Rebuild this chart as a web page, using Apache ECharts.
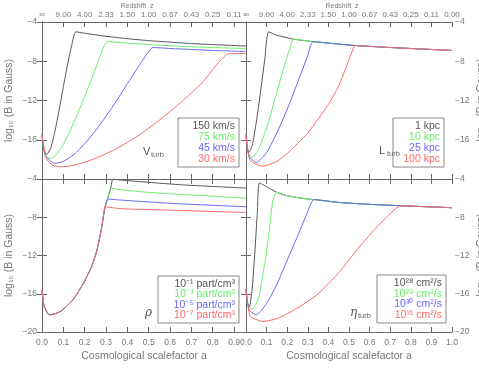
<!DOCTYPE html>
<html>
<head>
<meta charset="utf-8">
<script src="https://cdn.jsdelivr.net/npm/echarts@6/dist/echarts.min.js"></script>
<style>
  html, body { margin: 0; padding: 0; background: #fff; }
  #chart { width: 479px; height: 379px; }
</style>
</head>
<body>
<div id="chart"></div>
<script>
// tick values / labels
const yTicks = [-4, -8, -12, -16, -20];
const aTicks = [0, 0.1, 0.2, 0.3, 0.4, 0.5, 0.6, 0.7, 0.8, 0.9, 1.0];
const redshiftLabels = ["∞", "9.00", "4.00", "2.33", "1.50", "1.00", "0.67", "0.43", "0.25", "0.11", "0.00"];

// panel 1: V_turb  [a, log10 B]
const vturb150 = [[0,-15.5],[0.008,-16.9],[0.022,-17.5],[0.04,-16.9],[0.06,-15.2],[0.08,-13.0],[0.1,-10.6],[0.12,-8.3],[0.14,-6.3],[0.158,-5.0],[0.2,-5.15],[0.3,-5.45],[0.4,-5.7],[0.5,-5.9],[0.6,-6.05],[0.7,-6.2],[0.8,-6.3],[0.956,-6.45]];
const vturb75 = [[0,-15.5],[0.01,-17.2],[0.038,-17.9],[0.06,-17.7],[0.1,-16.5],[0.15,-14.2],[0.2,-11.6],[0.25,-8.8],[0.29,-6.5],[0.305,-6.0],[0.4,-6.15],[0.5,-6.3],[0.6,-6.42],[0.7,-6.52],[0.8,-6.6],[0.956,-6.7]];
const vturb45 = [[0,-15.5],[0.015,-17.6],[0.06,-18.4],[0.1,-18.2],[0.15,-17.5],[0.2,-16.4],[0.25,-15.1],[0.3,-13.6],[0.35,-12.0],[0.4,-10.3],[0.45,-8.6],[0.5,-7.0],[0.52,-6.6],[0.6,-6.7],[0.7,-6.8],[0.8,-6.9],[0.956,-7.0]];
const vturb30 = [[0,-15.5],[0.02,-17.9],[0.05,-18.6],[0.09,-18.75],[0.15,-18.6],[0.25,-17.9],[0.35,-16.9],[0.45,-15.6],[0.55,-14.0],[0.65,-12.2],[0.75,-10.2],[0.82,-8.3],[0.86,-7.4],[0.88,-7.2],[0.956,-7.2]];

// panel 2: L_turb (all reach the same saturated branch)
const lturbTop = [[0.11,-5.0],[0.15,-5.35],[0.2,-5.6],[0.23,-5.75],[0.325,-6.0],[0.4,-6.15],[0.53,-6.4],[0.7,-6.6],[0.85,-6.75],[1.0,-6.9]];
const lturb1 = [[0,-15.5],[0.006,-16.8],[0.014,-17.3],[0.03,-16.6],[0.05,-14.2],[0.07,-11.2],[0.09,-8.0]];
const lturb10 = [[0,-15.5],[0.01,-17.3],[0.03,-17.8],[0.06,-17.0],[0.1,-14.8],[0.14,-11.9],[0.18,-8.9],[0.22,-6.2]];
const lturb25 = [[0,-15.5],[0.015,-17.7],[0.05,-18.3],[0.1,-17.3],[0.15,-15.3],[0.2,-12.9],[0.25,-10.2],[0.3,-7.4]];
const lturb100 = [[0,-15.5],[0.02,-18.1],[0.08,-18.7],[0.15,-18.2],[0.2,-17.4],[0.3,-15.3],[0.4,-12.4],[0.45,-10.5],[0.49,-8.4],[0.515,-7.0]];

// panel 3: density (common growth, then separate branches)
const rhoRise = [[0,-15.6],[0.01,-17.3],[0.035,-18.2],[0.06,-18.1],[0.09,-17.8],[0.116,-17.3],[0.15,-16.5],[0.194,-14.9],[0.23,-13.3],[0.257,-11.5],[0.28,-9.0],[0.29,-7.6]];
const rho1 = [[0.296,-6.9],[0.307,-6.1],[0.322,-4.95],[0.333,-4.0],[0.366,-4.1],[0.5,-4.35],[0.65,-4.6],[0.8,-4.78],[0.956,-4.95]];
const rho3 = [[0.296,-6.9],[0.307,-6.1],[0.322,-4.95],[0.366,-5.12],[0.5,-5.4],[0.65,-5.62],[0.8,-5.8],[0.956,-6.0]];
const rho5 = [[0.296,-6.9],[0.307,-6.1],[0.366,-6.2],[0.5,-6.4],[0.65,-6.6],[0.8,-6.75],[0.956,-6.9]];
const rho7 = [[0.296,-6.9],[0.366,-7.1],[0.5,-7.2],[0.65,-7.3],[0.8,-7.4],[0.956,-7.5]];

// panel 4: eta_turb
const etaTop = [[0.065,-4.4],[0.1,-4.8],[0.15,-5.4],[0.2,-5.75],[0.3,-6.1],[0.33,-6.15],[0.45,-6.45],[0.6,-6.65],[0.756,-6.8],[0.9,-6.92],[1.0,-7.0]];
const eta28 = [[0,-15.5],[0.006,-16.9],[0.016,-17.4],[0.03,-15.5],[0.045,-11.0],[0.055,-7.5]];
const eta29 = [[0,-15.5],[0.01,-17.2],[0.03,-17.6],[0.06,-16.5],[0.09,-13.0],[0.11,-10.0],[0.13,-6.3]];
const eta30 = [[0,-15.5],[0.015,-17.7],[0.05,-18.2],[0.1,-17.0],[0.15,-15.0],[0.2,-12.5],[0.25,-10.0],[0.3,-7.4]];
const eta31 = [[0,-15.5],[0.02,-18.3],[0.083,-18.9],[0.15,-18.6],[0.25,-17.5],[0.35,-16.0],[0.45,-13.8],[0.55,-11.1],[0.65,-8.7]];

const colors = ["#555555", "#66f066", "#6868f8", "#ff6868"];
const axisColor = "#666";
const textColor = "#777";
const font = "Liberation Sans";
const yName = "log\u2081\u2080 (B in Gauss)";

// join a rising part onto the shared upper branch
const withTop = (rise, top) => rise.concat(top.filter(p => p[0] > rise[rise.length - 1][0]));

const chart = echarts.init(document.getElementById("chart"));

// panel boxes in px
const panels = [
  { left: 42, top: 22, width: 204, height: 157, xmax: 0.956 },
  { left: 246, top: 22, width: 206, height: 157, xmax: 1.0 },
  { left: 42, top: 179, width: 204, height: 153, xmax: 0.956 },
  { left: 246, top: 179, width: 206, height: 153, xmax: 1.0 }
];

const tickStyle = { inside: true, length: 5, lineStyle: { color: axisColor } };
const lineStyle = { lineStyle: { color: axisColor, width: 1 } };
const tickText = { color: textColor, fontFamily: font, fontSize: 8.5 };
const nameText = { color: textColor, fontFamily: font, fontSize: 10.5 };
const fmtA = v => {
  const i = Math.round(v * 10);
  return Math.abs(v * 10 - i) < 1e-6 ? aTicks[i].toFixed(1) : "";
};
const fmtZ = v => {
  const i = Math.round(v * 10);
  return Math.abs(v * 10 - i) < 1e-6 ? redshiftLabels[i] : "";
};
const fmtY = v => (yTicks.includes(v) ? "\u2212" + Math.abs(v) : "");

const xAxis = [];
const yAxis = [];
panels.forEach((p, g) => {
  const isTop = g < 2;
  const isRight = g % 2 === 1;
  // bottom axis
  xAxis.push({
    gridIndex: g, type: "value", min: 0, max: p.xmax, interval: 0.1, position: "bottom",
    axisLine: lineStyle, axisTick: tickStyle, splitLine: { show: false },
    axisLabel: { show: !isTop, formatter: fmtA, margin: 6, showMaxLabel: isRight, ...tickText },
    name: isTop ? "" : "Cosmological scalefactor a", nameLocation: "middle", nameGap: 19,
    nameTextStyle: { ...nameText }
  });
  // top axis (redshift on the upper panels)
  xAxis.push({
    gridIndex: g, type: "value", min: 0, max: p.xmax, interval: 0.1, position: "top",
    axisLine: lineStyle, axisTick: tickStyle, splitLine: { show: false },
    axisLabel: { show: isTop, formatter: fmtZ, margin: 3, showMaxLabel: isRight, ...tickText, fontSize: 8 },
    name: isTop ? "Redshift  z" : "", nameLocation: "middle", nameGap: 12,
    nameTextStyle: { ...tickText, fontSize: 7, padding: [0, 14, 0, 0] }
  });
  // left axis
  yAxis.push({
    gridIndex: g, type: "value", min: -20, max: -4, interval: 4, position: "left",
    axisLine: lineStyle, axisTick: tickStyle, splitLine: { show: false },
    axisLabel: { show: !isRight, formatter: fmtY, margin: 5, showMinLabel: !isTop, ...tickText },
    name: isRight ? "" : yName, nameLocation: "middle", nameGap: 27,
    nameTextStyle: { ...nameText }
  });
  // right axis
  yAxis.push({
    gridIndex: g, type: "value", min: -20, max: -4, interval: 4, position: "right",
    axisLine: lineStyle, axisTick: tickStyle, splitLine: { show: false },
    axisLabel: { show: isRight, formatter: fmtY, margin: 3, showMinLabel: !isTop, ...tickText }
  });
});

const curve = (data, c, g) => ({
  type: "line", data, xAxisIndex: g * 2, yAxisIndex: g * 2,
  smooth: 0.2, symbol: "none", clip: true, silent: true,
  lineStyle: { color: colors[c], width: 1 }
});

const series = [
  curve(vturb150, 0, 0), curve(vturb75, 1, 0), curve(vturb45, 2, 0), curve(vturb30, 3, 0),
  curve(withTop(lturb1, lturbTop), 0, 1), curve(withTop(lturb10, lturbTop), 1, 1),
  curve(withTop(lturb25, lturbTop), 2, 1), curve(withTop(lturb100, lturbTop), 3, 1),
  curve(rhoRise.concat(rho1), 0, 2), curve(rhoRise.concat(rho3), 1, 2),
  curve(rhoRise.concat(rho5), 2, 2), curve(rhoRise.concat(rho7), 3, 2),
  curve(withTop(eta28, etaTop), 0, 3), curve(withTop(eta29, etaTop), 1, 3),
  curve(withTop(eta30, etaTop), 2, 3), curve(withTop(eta31, etaTop), 3, 3)
];

// legend boxes (right-aligned coloured text, as in the original)
const legendBox = (x0, y0, x1, y1, lines, size) => {
  const children = [{
    type: "rect", shape: { x: x0, y: y0, width: x1 - x0, height: y1 - y0 },
    style: { fill: "#fff", stroke: "#888", lineWidth: 1 }
  }];
  const step = (y1 - y0 - 6) / lines.length;
  lines.forEach((t, i) => {
    children.push({
      type: "text", x: x1 - 4, y: y0 + 3 + step * (i + 0.5),
      style: { text: t, fill: colors[i], font: size + "px '" + font + "'", align: "right", verticalAlign: "middle" }
    });
  });
  return { type: "group", children };
};
const symbolText = (x, y, main, sub, mainFont) => ({
  type: "group", children: [
    { type: "text", x, y, style: { text: main, fill: "#555", font: mainFont, verticalAlign: "middle", align: "left" } },
    { type: "text", x: x + 8, y: y + 3, style: { text: sub, fill: "#666", font: "7.5px '" + font + "'", verticalAlign: "middle", align: "left" } }
  ]
});
// y title of the right column, cut by the page edge like in the original
const rightTitle = y => ({
  type: "text", x: 481, y, rotation: Math.PI / 2,
  style: { text: yName, fill: textColor, font: "10.5px '" + font + "'", align: "center", verticalAlign: "middle" }
});

const graphic = [
  legendBox(178, 118, 239, 167, ["150 km/s", "75 km/s", "45 km/s", "30 km/s"], 10.5),
  legendBox(393, 118, 444, 167, ["1 kpc", "10 kpc", "25 kpc", "100 kpc"], 10.5),
  legendBox(158, 276, 239, 323, ["10\u207B\u00B9 part/cm\u00B3", "10\u207B\u00B3 part/cm\u00B3", "10\u207B\u2075 part/cm\u00B3", "10\u207B\u2077 part/cm\u00B3"], 10.5),
  legendBox(377, 275, 446, 323, ["10\u00B2\u2078 cm\u00B2/s", "10\u00B2\u2079 cm\u00B2/s", "10\u00B3\u2070 cm\u00B2/s", "10\u00B3\u00B9 cm\u00B2/s"], 10.5),
  symbolText(143, 152, "V", "turb", "11px '" + font + "'"),
  symbolText(379, 151, "L", "turb", "11px '" + font + "'"),
  { type: "text", x: 145, y: 313, style: { text: "ρ", fill: "#555", font: "italic 12px 'DejaVu Serif'", verticalAlign: "middle" } },
  symbolText(350, 313, "η", "turb", "italic 12px 'DejaVu Serif'"),
  rightTitle(100),
  rightTitle(255)
];

chart.setOption({
  animation: false,
  backgroundColor: "#fff",
  grid: panels.map(p => ({ left: p.left, top: p.top, width: p.width, height: p.height, containLabel: false })),
  xAxis, yAxis, series, graphic
});
</script>
</body>
</html>
